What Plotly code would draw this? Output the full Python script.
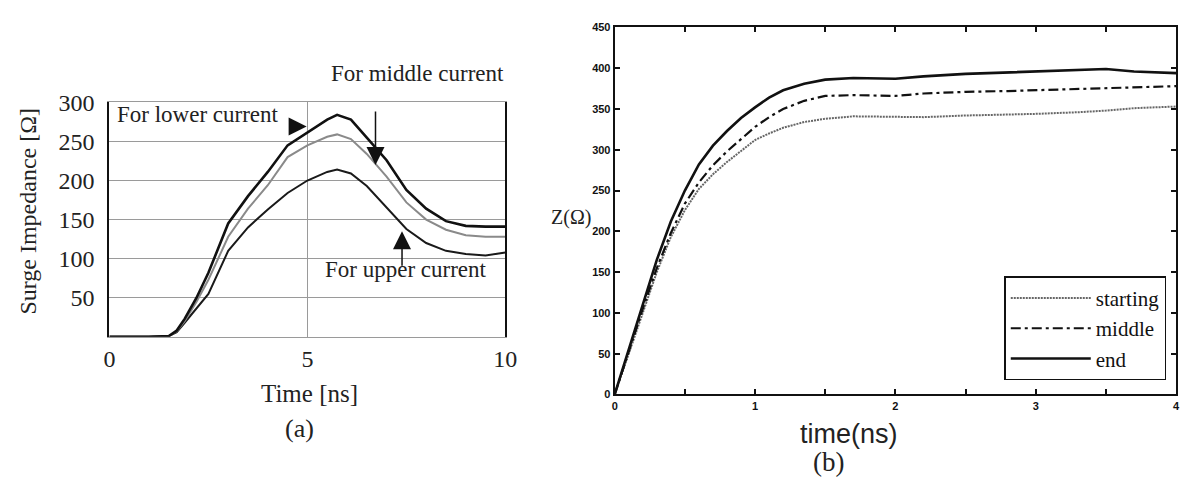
import plotly.graph_objects as go

W, H = 1196, 486

# ---------------- Panel (a) data ----------------
time_a = [0, 0.5, 1.0, 1.5, 1.7, 1.9, 2.2, 2.5, 3.0, 3.5, 4.0, 4.5, 5.0, 5.5, 5.75,
          6.1, 6.5, 7.0, 7.5, 8.0, 8.5, 9.0, 9.5, 10.0]
z_lower = [0, 0, 0, 1, 8, 23, 50, 82, 145, 180, 211, 245, 262, 278, 284,
           278, 255, 226, 188, 164, 148, 142, 141, 141]
z_middle = [0, 0, 0, 1, 7, 20, 45, 73, 128, 164, 194, 230, 245, 256, 259,
            253, 234, 205, 172, 150, 137, 130, 128, 128]
z_upper = [0, 0, 0, 1, 6, 18, 36, 55, 110, 140, 163, 184, 200, 211, 214,
           209, 193, 165, 138, 120, 110, 106, 104, 108]

xticks_a = [0, 5, 10]
yticks_a = [50, 100, 150, 200, 250, 300]

# ---------------- Panel (b) data ----------------
time_b = [0, 0.1, 0.2, 0.3, 0.4, 0.5, 0.6, 0.7, 0.8, 0.9, 1.0, 1.1, 1.2, 1.35,
          1.5, 1.7, 2.0, 2.2, 2.5, 2.8, 3.0, 3.3, 3.5, 3.7, 4.0]
z_end = [0, 55, 110, 165, 212, 250, 282, 305, 323, 339, 352, 364, 373, 381,
         386, 388, 387, 390, 393, 395, 396, 398, 399, 396, 394]
z_mid = [0, 53, 105, 155, 198, 234, 260, 281, 298, 313, 328, 340, 350, 360,
         366, 367, 366, 369, 371, 372, 373, 375, 376, 377, 378]
z_start = [0, 50, 100, 150, 193, 226, 252, 270, 285, 299, 312, 320, 327, 334,
           338, 341, 340, 340, 342, 343, 344, 346, 348, 351, 353]

xticks_b = [0, 0.5, 1, 1.5, 2, 2.5, 3, 3.5, 4]
xticktext_b = ["0", "", "1", "", "2", "", "3", "", "4"]
yticks_b = [0, 50, 100, 150, 200, 250, 300, 350, 400, 450]

SERIF = "Liberation Serif, Times New Roman, serif"
SANS = "Liberation Sans, Arial, sans-serif"


def px2x(p):
    return p / W


def px2y(p):
    return 1 - p / H


fig = go.Figure()

# Panel (a) traces
fig.add_trace(go.Scatter(x=time_a, y=z_upper, mode="lines", xaxis="x", yaxis="y",
                         line=dict(color="#1a1a1a", width=2), showlegend=False,
                         name="For upper current"))
fig.add_trace(go.Scatter(x=time_a, y=z_middle, mode="lines", xaxis="x", yaxis="y",
                         line=dict(color="#8a8a8a", width=2), showlegend=False,
                         name="For middle current"))
fig.add_trace(go.Scatter(x=time_a, y=z_lower, mode="lines", xaxis="x", yaxis="y",
                         line=dict(color="#111111", width=2.6), showlegend=False,
                         name="For lower current"))

# Panel (b) traces
fig.add_trace(go.Scatter(x=time_b, y=z_start, mode="lines", xaxis="x2", yaxis="y2",
                         line=dict(color="#666666", width=2, dash="2px,1px"),
                         name="starting"))
fig.add_trace(go.Scatter(x=time_b, y=z_mid, mode="lines", xaxis="x2", yaxis="y2",
                         line=dict(color="#111111", width=2.2, dash="10px,4px,3px,4px"),
                         name="middle"))
fig.add_trace(go.Scatter(x=time_b, y=z_end, mode="lines", xaxis="x2", yaxis="y2",
                         line=dict(color="#111111", width=2.6),
                         name="end"))

annotations = [
    # panel (a) texts
    dict(text="Surge Impedance [Ω]", x=px2x(22), y=px2y(206), textangle=-90,
         font=dict(family=SERIF, size=24, color="#222")),
    dict(text="Time [ns]", x=px2x(308), y=px2y(396),
         font=dict(family=SERIF, size=25, color="#222")),
    dict(text="(a)", x=px2x(298), y=px2y(432),
         font=dict(family=SERIF, size=26, color="#222")),
    dict(text="For lower current", x=px2x(195), y=px2y(106),
         font=dict(family=SERIF, size=23, color="#222")),
    dict(text="For middle current", x=px2x(418), y=px2y(63),
         font=dict(family=SERIF, size=23, color="#222")),
    dict(text="For upper current", x=px2x(406), y=px2y(267),
         font=dict(family=SERIF, size=23, color="#222")),
    # panel (b) texts
    dict(text="Z(Ω)", x=px2x(574), y=px2y(213),
         font=dict(family=SERIF, size=20, color="#222")),
    dict(text="time(ns)", x=px2x(856), y=px2y(438),
         font=dict(family=SANS, size=27, color="#222")),
    dict(text="(b)", x=px2x(835), y=px2y(467),
         font=dict(family=SERIF, size=27, color="#222")),
]
for a in annotations:
    a.update(xref="paper", yref="paper", showarrow=False,
             xanchor="center", yanchor="middle")

arrow_style = dict(text="", showarrow=True, arrowhead=2, arrowsize=2.4,
                   arrowwidth=1.5, arrowcolor="#111", xref="x", yref="y",
                   axref="pixel", ayref="pixel", standoff=0)
annotations += [
    dict(x=4.98, y=269, ax=-18, ay=0, **arrow_style),
    dict(x=6.72, y=220, ax=0, ay=-55, **arrow_style),
    dict(x=7.39, y=135, ax=0, ay=36, **arrow_style),
]

fig.update_layout(
    width=W, height=H,
    margin=dict(l=0, r=0, t=0, b=0),
    paper_bgcolor="white", plot_bgcolor="white",
    annotations=annotations,
    xaxis=dict(domain=[px2x(105), px2x(507)], range=[0, 10], tickvals=xticks_a,
               showgrid=True, gridcolor="#9a9a9a", gridwidth=1,
               showline=True, linecolor="#9a9a9a", linewidth=1, mirror=True,
               zeroline=False, ticks="", ticklabelstandoff=0,
               tickfont=dict(family=SERIF, size=24, color="#222"), anchor="y"),
    yaxis=dict(domain=[px2y(337), px2y(93)], range=[0, 300], tickvals=yticks_a,
               showgrid=True, gridcolor="#9a9a9a", gridwidth=1,
               showline=True, linecolor="#111", linewidth=2, mirror=True,
               zeroline=False, ticks="", ticklabelstandoff=8,
               tickfont=dict(family=SERIF, size=24, color="#222"), anchor="x"),
    xaxis2=dict(domain=[px2x(618), px2x(1188)], range=[0, 4], tickvals=xticks_b,
                ticktext=xticktext_b, showgrid=False, zeroline=False,
                showline=True, linecolor="#111", linewidth=2, mirror="ticks",
                ticks="inside", ticklen=5, tickcolor="#111", tickwidth=1.5,
                tickfont=dict(family=SANS, size=11, color="#111", weight="bold"),
                anchor="y2"),
    yaxis2=dict(domain=[px2y(397), px2y(15)], range=[0, 450], tickvals=yticks_b,
                showgrid=False, zeroline=False,
                showline=True, linecolor="#111", linewidth=2, mirror="ticks",
                ticks="inside", ticklen=5, tickcolor="#111", tickwidth=1.5,
                tickfont=dict(family=SANS, size=11, color="#111", weight="bold"),
                anchor="x2"),
    legend=dict(x=px2x(1178), y=px2y(274), xanchor="right", yanchor="top",
                bgcolor="white", bordercolor="#111", borderwidth=1.5,
                font=dict(family=SERIF, size=21, color="#111"),
                itemwidth=80, tracegroupgap=0),
)

fig.write_html("out.html")
